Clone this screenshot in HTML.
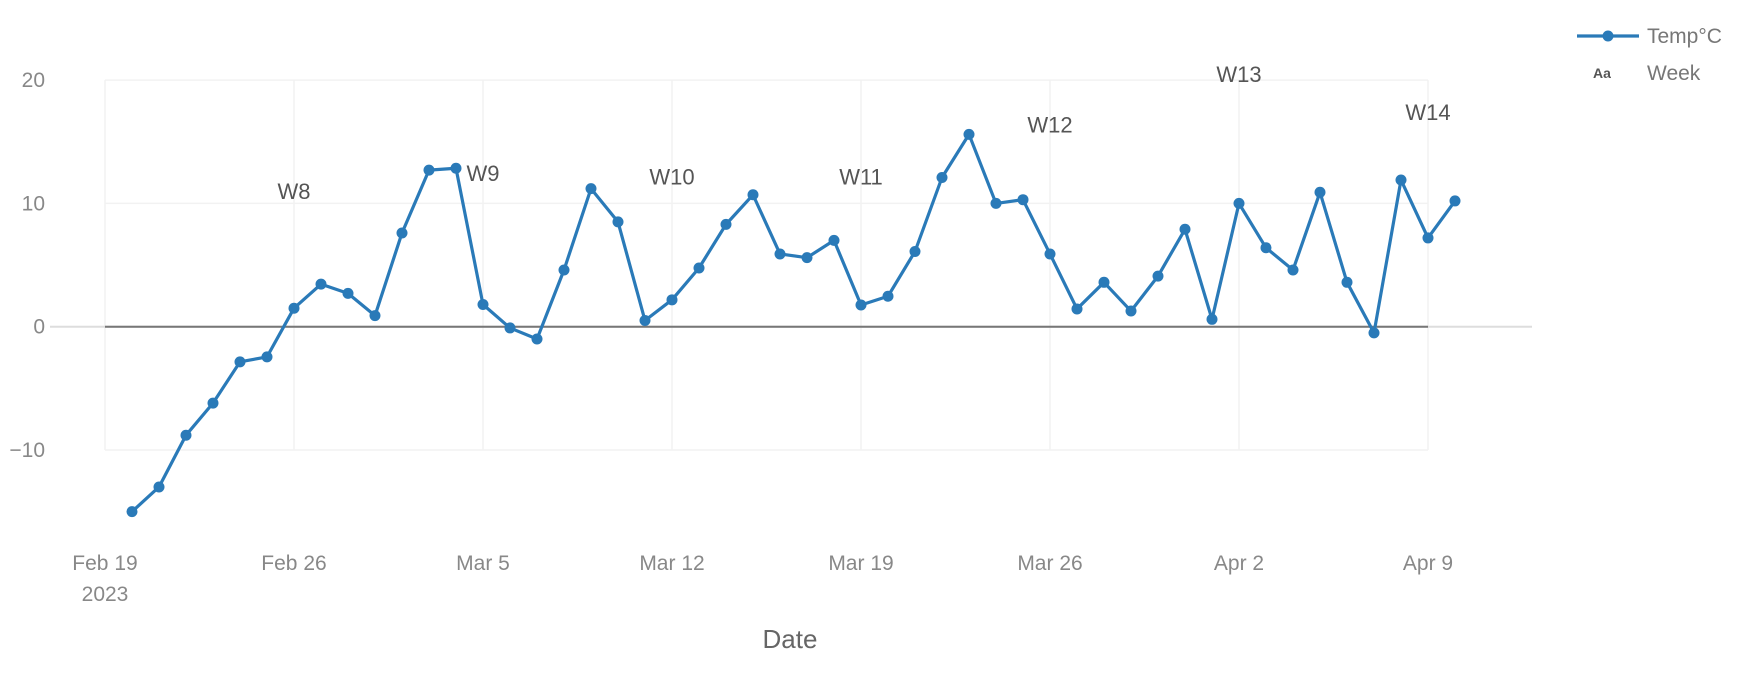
<!DOCTYPE html>
<html><head><meta charset="utf-8"><style>
body{margin:0;background:#fff;}
svg{display:block;font-family:"Liberation Sans","DejaVu Sans",sans-serif;}
</style></head><body>
<svg id="chart" width="1754" height="679" viewBox="0 0 1754 679"></svg>
<script>
const temps = [-15.0,-13.0,-8.8,-6.2,-2.85,-2.45,1.5,3.45,2.7,0.9,7.6,12.7,12.85,1.8,-0.1,-1.0,4.6,11.2,
  8.5,0.5,2.18,4.76,8.3,10.7,5.9,5.6,7.0,1.76,2.47,6.1,12.1,15.6,10.0,10.3,5.9,1.44,3.6,1.27,4.1,7.9,0.6,
  10.0,6.4,4.6,10.9,3.6,-0.5,11.9,7.2,10.2];
const startDay = 1; // days after Feb 19 of first point
const weekLabels = ["W8","W9","W10","W11","W12","W13","W14"];
const weekDays = [7,14,21,28,35,42,49];
const weekVals = [11.0,12.45,12.2,12.2,16.4,20.5,17.4];
const yTicks = [20,10,0,-10];
const yTickText = ["20","10","0","\u221210"];
const xTickDays = [0,7,14,21,28,35,42,49];
const xTickText = ["Feb 19","Feb 26","Mar 5","Mar 12","Mar 19","Mar 26","Apr 2","Apr 9"];

const NS="http://www.w3.org/2000/svg";
const svg=document.getElementById('chart');
const X=d=>105+d*(1323/49);
const Y=v=>326.7-v*12.33;
function mk(tag,attrs,parent){const e=document.createElementNS(NS,tag);for(const k in attrs)e.setAttribute(k,attrs[k]);(parent||svg).appendChild(e);return e;}

// gridlines
const grid=mk('g',{});


xTickDays.forEach(d=>{mk('line',{x1:X(d),x2:X(d),y1:Y(20),y2:Y(-10),stroke:'#f2f2f2','stroke-width':1.5},grid);});
yTicks.forEach(v=>{if(v!==0)mk('line',{x1:X(0),x2:X(49),y1:Y(v),y2:Y(v),stroke:'#f2f2f2','stroke-width':1.5},grid);});
const zl=mk('line',{x1:50,x2:1532,y1:Y(0),y2:Y(0),stroke:'#ddd','stroke-width':2});


const zd=mk('line',{x1:X(0),x2:X(49),y1:Y(0),y2:Y(0),stroke:'#777','stroke-width':2});



// y ticks
yTicks.forEach((v,i)=>{const t=mk('text',{x:45,y:Y(v)+7,'text-anchor':'end','font-size':21,fill:'#888'});t.textContent=yTickText[i];

});
// x ticks
xTickDays.forEach((d,i)=>{const t=mk('text',{x:X(d),y:570,'text-anchor':'middle','font-size':21,fill:'#888'});t.textContent=xTickText[i];

});
const yr=mk('text',{x:X(0),y:601,'text-anchor':'middle','font-size':21,fill:'#888'});yr.textContent='2023';


const xt=mk('text',{x:790,y:648,'text-anchor':'middle','font-size':26,fill:'#666'});xt.textContent='Date';



// series
const pts=temps.map((v,i)=>X(startDay+i)+','+Y(v)).join(' ');
const pl=mk('polyline',{points:pts,fill:'none',stroke:'#2a7ab8','stroke-width':3.2,'stroke-linejoin':'round'});


temps.forEach((v,i)=>{const c=mk('circle',{cx:X(startDay+i),cy:Y(v),r:5.5,fill:'#2a7ab8'});

});

// week annotations
weekLabels.forEach((w,i)=>{const t=mk('text',{x:X(weekDays[i]),y:Y(weekVals[i])+8,'text-anchor':'middle','font-size':22,fill:'#555'});t.textContent=w;

});

// legend
const lg=mk('g',{});


mk('line',{x1:1577,x2:1639,y1:36,y2:36,stroke:'#2a7ab8','stroke-width':3.2},lg);
mk('circle',{cx:1608,cy:36,r:5.5,fill:'#2a7ab8'},lg);
const l1=mk('text',{x:1647,y:43,'font-size':21,fill:'#777'},lg);l1.textContent='Temp°C';


const ic=mk('text',{x:1593,y:78,'font-size':14,'font-weight':'bold',fill:'#555'},lg);ic.textContent='Aa';


const l2=mk('text',{x:1647,y:80,'font-size':21,fill:'#777'},lg);l2.textContent='Week';


</script>
</body></html>
